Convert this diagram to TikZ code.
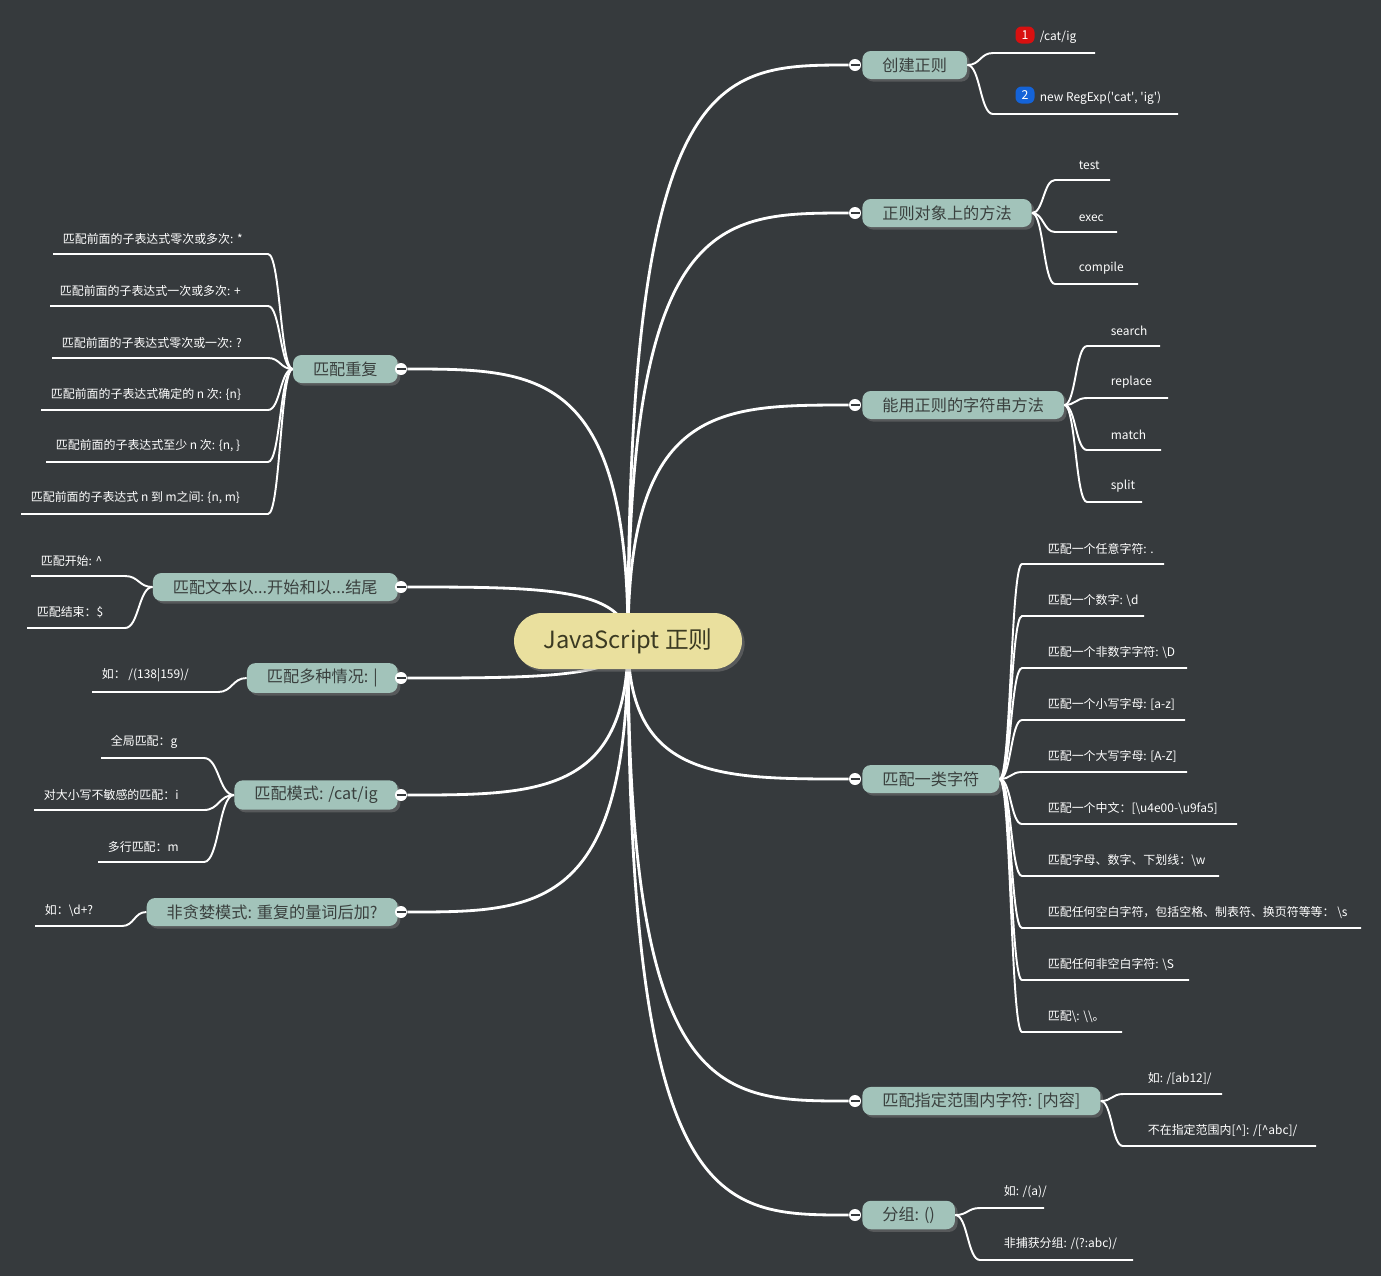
\documentclass[tikz,border=0pt]{standalone}
\usepackage{fontspec}
\setmainfont{Noto Sans CJK SC}
\usetikzlibrary{calc}
\usetikzlibrary{shadows}
\usetikzlibrary{backgrounds}
\definecolor{bgcol}{HTML}{363A3D}
\definecolor{boughcol}{HTML}{A2C3BA}
\definecolor{boughtext}{HTML}{3A403E}
\definecolor{rootcol}{HTML}{EAE09E}
\definecolor{roottext}{HTML}{3B3A22}
\definecolor{badgered}{HTML}{D81010}
\definecolor{badgeblue}{HTML}{1463D8}
\tikzstyle{root} = [fill=rootcol, text=roottext, rounded corners=0.56cm, minimum width=4.56cm, minimum height=1.12cm, font=\fontsize{13.5}{15}\selectfont, drop shadow={opacity=0.45, shadow xshift=1.5pt, shadow yshift=-1.5pt}]
\tikzstyle{bough} = [fill=boughcol, text=boughtext, rounded corners=0.17cm, minimum height=0.56cm, inner xsep=0.4cm, font=\fontsize{9.2}{11}\selectfont, drop shadow={opacity=0.45, shadow xshift=1.5pt, shadow yshift=-1.5pt}]
\tikzstyle{knob} = [circle, fill=white, minimum size=0.24cm, inner sep=0pt, path picture={\draw[bgcol, line width=0.7pt] ([xshift=-0.09cm]path picture bounding box.center) -- ([xshift=0.09cm]path picture bounding box.center);}]
\tikzstyle{trunk} = [white, line width=1.6pt]
\tikzstyle{twig} = [white, line width=1.1pt]
\tikzstyle{leaf} = [text=white, inner sep=2pt, font=\fontsize{6.8}{8}\selectfont]
\tikzstyle{badge} = [rounded corners=0.12cm, minimum width=0.38cm, minimum height=0.34cm, inner sep=0pt, text=white, font=\fontsize{7}{8}\selectfont\itshape]

% from, line start x, y, line end x, text x, text
\newcommand{\twigR}[6]{%
	\coordinate (tw-s) at (#2, #3) ;
	\coordinate (tw-e) at (#4, #3) ;
	\draw[twig] (#1) .. controls ($(#1)!0.5!(#1 -| tw-s)$) and ($(tw-s)!0.5!(tw-s -| #1)$) .. (tw-s) -- (tw-e) ;
	\node[leaf, anchor=south west] at (#5, #3-6) {#6} ;
}
\newcommand{\twigL}[6]{%
	\coordinate (tw-s) at (#2, #3) ;
	\coordinate (tw-e) at (#4, #3) ;
	\draw[twig] (#1) .. controls ($(#1)!0.5!(#1 -| tw-e)$) and ($(tw-e)!0.5!(tw-e -| #1)$) .. (tw-e) -- (tw-s) ;
	\node[leaf, anchor=south west] at (#5, #3-6) {#6} ;
}

\begin{document}
\begin{tikzpicture}[x=0.02cm, y=-0.02cm]
	\begin{scope}[on background layer]
		\fill[bgcol] (0, 0) rectangle (1381, 1276) ;
	\end{scope}
	\useasboundingbox (0, 0) rectangle (1381, 1276) ;

	\node[root] (root) at (628, 641) {JavaScript 正则} ;

	% right side
	\node[bough, anchor=west] (create) at (862, 65) {创建正则} ;
	\node[bough, anchor=west] (method) at (862, 213) {正则对象上的方法} ;
	\node[bough, anchor=west] (string) at (862, 405) {能用正则的字符串方法} ;
	\node[bough, anchor=west] (class) at (862, 779) {匹配一类字符} ;
	\node[bough, anchor=west] (range) at (862, 1101) {匹配指定范围内字符: [内容]} ;
	\node[bough, anchor=west] (group) at (862, 1215) {分组: ()} ;

	% left side
	\node[bough, anchor=east] (repeat) at (398, 369) {匹配重复} ;
	\node[bough, anchor=east] (ends) at (398, 587) {匹配文本以...开始和以...结尾} ;
	\node[bough, anchor=east] (multi) at (398, 678) {匹配多种情况: |} ;
	\node[bough, anchor=east] (mode) at (398, 795) {匹配模式: /cat/ig} ;
	\node[bough, anchor=east] (lazy) at (398, 912) {非贪婪模式: 重复的量词后加?} ;

	\foreach \b in {create, method, string, class, range, group}
	{
		\node[knob] (\b-k) at ($(\b.west)+(-7, 0)$) {} ;
		\begin{scope}[on background layer]
			\draw[trunk] (root.center) .. controls (root.center |- \b-k) and ($(root.center |- \b-k)!0.4!(\b-k)$) .. (\b-k) ;
		\end{scope}
	}
	\foreach \b in {repeat, ends, multi, mode, lazy}
	{
		\node[knob] (\b-k) at ($(\b.east)+(3, 0)$) {} ;
		\begin{scope}[on background layer]
			\draw[trunk] (root.center) .. controls (root.center |- \b-k) and ($(root.center |- \b-k)!0.4!(\b-k)$) .. (\b-k) ;
		\end{scope}
	}

	% create
	\twigR{create.east}{993}{53}{1095}{1036}{/cat/ig}
	\twigR{create.east}{993}{114}{1178}{1036}{new RegExp(\textquotesingle cat\textquotesingle, \textquotesingle ig\textquotesingle)}
	\node[badge, fill=badgered] (one) at (1025, 35) {1} ;
	\node[badge, fill=badgeblue] (two) at (1025, 95) {2} ;

	% method
	\foreach \y/\xe/\t in {180/1110/test, 232/1117/exec, 284/1138/compile}
	{
		\twigR{method.east}{1055}{\y}{\xe}{1075}{\t}
	}

	% string
	\foreach \y/\xe/\t in {346/1160/search, 398/1168/replace, 450/1161/match, 502/1142/split}
	{
		\twigR{string.east}{1087}{\y}{\xe}{1107}{\t}
	}

	% class
	\foreach \y/\xe/\t in {564/1164/{匹配一个任意字符: .},
		616/1144/{匹配一个数字: \textbackslash d},
		668/1187/{匹配一个非数字字符: \textbackslash D},
		720/1185/{匹配一个小写字母: [a-z]},
		772/1187/{匹配一个大写字母: [A-Z]},
		824/1237/{匹配一个中文：[\textbackslash u4e00-\textbackslash u9fa5]},
		876/1219/{匹配字母、数字、下划线：\textbackslash w},
		928/1361/{匹配任何空白字符，包括空格、制表符、换页符等等： \textbackslash s},
		980/1189/{匹配任何非空白字符: \textbackslash S},
		1032/1122/{匹配\textbackslash: \textbackslash\textbackslash。}}
	{
		\twigR{class.east}{1022}{\y}{\xe}{1044}{\t}
	}

	% range
	\twigR{range.east}{1123}{1094}{1222}{1144}{如: /[ab12]/}
	\twigR{range.east}{1123}{1146}{1316}{1144}{不在指定范围内[\textasciicircum]: /[\textasciicircum abc]/}

	% group
	\twigR{group.east}{980}{1208}{1044}{1000}{如: /(a)/}
	\twigR{group.east}{980}{1260}{1133}{1000}{非捕获分组: /(?:abc)/}

	% repeat
	\foreach \y/\xs/\t in {254/53/{匹配前面的子表达式零次或多次: *},
		306/50/{匹配前面的子表达式一次或多次: +},
		358/52/{匹配前面的子表达式零次或一次: ?},
		410/41/{匹配前面的子表达式确定的 n 次: \{n\}},
		462/46/{匹配前面的子表达式至少 n 次: \{n, \}},
		514/21/{匹配前面的子表达式 n 到 m之间: \{n, m\}}}
	{
		\twigL{repeat.west}{\xs}{\y}{268}{\xs+6}{\t}
	}

	% ends
	\twigL{ends.west}{31}{576}{125}{37}{匹配开始: \textasciicircum}
	\twigL{ends.west}{27}{628}{125}{33}{匹配结束：\$}

	% multi
	\twigL{multi.west}{92}{692}{218}{98}{如：  /(138|159)/}

	% mode
	\twigL{mode.west}{101}{758}{204}{107}{全局匹配：g}
	\twigL{mode.west}{34}{810}{204}{40}{对大小写不敏感的匹配：i}
	\twigL{mode.west}{98}{862}{204}{104}{多行匹配：m}

	% lazy
	\twigL{lazy.west}{35}{926}{122}{41}{如：\textbackslash d+?}
\end{tikzpicture}
\end{document}
